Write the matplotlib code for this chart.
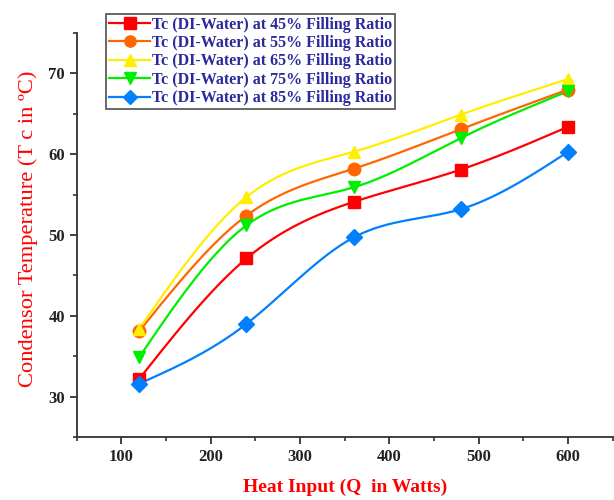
import numpy as np
import matplotlib
matplotlib.use("Agg")
import matplotlib.pyplot as plt
from matplotlib.ticker import MultipleLocator

heat_input = [120, 240, 360, 480, 600]
tc_45 = [32.2, 47.1, 54.1, 58.1, 63.4]
tc_55 = [38.1, 52.4, 58.2, 63.1, 68.0]
tc_65 = [38.4, 54.7, 60.3, 64.9, 69.3]
tc_75 = [34.9, 51.2, 55.9, 62.0, 67.8]
tc_85 = [31.6, 39.0, 49.7, 53.2, 60.3]

labels = ["Tc (DI-Water) at 45% Filling Ratio",
          "Tc (DI-Water) at 55% Filling Ratio",
          "Tc (DI-Water) at 65% Filling Ratio",
          "Tc (DI-Water) at 75% Filling Ratio",
          "Tc (DI-Water) at 85% Filling Ratio"]
colors = ["#ff0000", "#ff6600", "#ffee00", "#00ee00", "#0080ff"]
markers = ["s", "o", "^", "v", "D"]


def natural_spline(x, y, n=200):
    x = np.asarray(x, float)
    y = np.asarray(y, float)
    k = len(x)
    h = np.diff(x)
    A = np.zeros((k, k))
    b = np.zeros(k)
    A[0, 0] = 1
    A[-1, -1] = 1
    for i in range(1, k - 1):
        A[i, i - 1] = h[i - 1]
        A[i, i] = 2 * (h[i - 1] + h[i])
        A[i, i + 1] = h[i]
        b[i] = 3 * ((y[i + 1] - y[i]) / h[i] - (y[i] - y[i - 1]) / h[i - 1])
    c = np.linalg.solve(A, b)
    xs = np.linspace(x[0], x[-1], n)
    ys = np.empty_like(xs)
    for j, xv in enumerate(xs):
        i = min(np.searchsorted(x, xv, side="right") - 1, k - 2)
        dx = xv - x[i]
        bi = (y[i + 1] - y[i]) / h[i] - h[i] * (2 * c[i] + c[i + 1]) / 3
        di = (c[i + 1] - c[i]) / (3 * h[i])
        ys[j] = y[i] + bi * dx + c[i] * dx ** 2 + di * dx ** 3
    return xs, ys


plt.rcParams['font.family'] = ['Liberation Serif', 'DejaVu Serif']

fig = plt.figure(figsize=(6.14, 5.0), dpi=100)
ax = fig.add_axes([0.125, 0.126, 0.873, 0.808])

series = [tc_45, tc_55, tc_65, tc_75, tc_85]
handles = []
for ys, col, mk, lab in zip(series, colors, markers, labels):
    sx, sy = natural_spline(heat_input, ys)
    ax.plot(sx, sy, color=col, lw=1.6, zorder=2)
    ax.plot(heat_input, ys, linestyle="none", marker=mk, color=col,
            markersize=9 if mk != "D" else 8, zorder=3)
    h, = ax.plot([], [], color=col, lw=1.6, marker=mk,
                 markersize=9 if mk != "D" else 8)
    handles.append(h)

ax.set_xlim(50, 650)
ax.set_ylim(25, 75)
ax.xaxis.set_major_locator(MultipleLocator(100))
ax.xaxis.set_minor_locator(MultipleLocator(50))
ax.yaxis.set_major_locator(MultipleLocator(10))
ax.yaxis.set_minor_locator(MultipleLocator(5))
ax.set_xticks([100, 200, 300, 400, 500, 600])
ax.set_yticks([30, 40, 50, 60, 70])

for s in ["top", "right"]:
    ax.spines[s].set_visible(False)
for s in ["left", "bottom"]:
    ax.spines[s].set_linewidth(1.3)
    ax.spines[s].set_color("#333333")

ax.tick_params(which="major", direction="out", length=5, width=1.3,
               labelsize=12, colors="#333333", labelcolor="#222222")
ax.tick_params(which="minor", direction="out", length=3, width=1.2,
               colors="#333333")
for t in ax.get_xticklabels() + ax.get_yticklabels():
    t.set_fontweight("bold")

ax.set_xlabel("Heat Input (Q  in Watts)", color="#ff0000", fontsize=14,
              fontweight="bold", labelpad=10)
ax.set_ylabel("Condensor Temperature (T c in ºC)", color="#ff0000",
              fontsize=16.2, fontweight="normal")
ax.yaxis.set_label_coords(-0.072, 0.515)

leg = fig.legend(handles, labels, loc="upper left",
                 bbox_to_anchor=(0.172, 0.973), frameon=True, fancybox=False,
                 edgecolor="#333333", handlelength=2.6,
                 handletextpad=0.1, labelspacing=0.15, borderpad=0.2,
                 borderaxespad=0.0, prop={"weight": "bold", "size": 11.5},
                 markerscale=0.9)
leg.get_frame().set_linewidth(1.3)
for t in leg.get_texts():
    t.set_color("#2a2a9c")

fig.savefig("out.png", dpi=100)
